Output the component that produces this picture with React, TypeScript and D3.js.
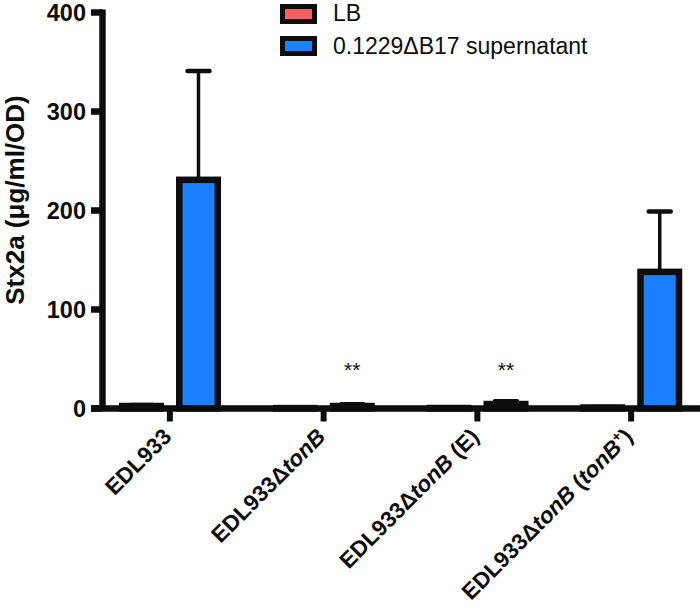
import React from 'react';
import * as d3 from 'd3';

const categories = ['EDL933', 'EDL933ΔtonB', 'EDL933ΔtonB (E)', 'EDL933ΔtonB (tonB+)'];
const labelParts = [
  [{ t: 'EDL933' }],
  [{ t: 'EDL933Δ' }, { t: 'tonB', i: true }],
  [{ t: 'EDL933Δ' }, { t: 'tonB', i: true }, { t: ' (E)' }],
  [{ t: 'EDL933Δ' }, { t: 'tonB', i: true }, { t: ' (' }, { t: 'tonB', i: true }, { t: '+', sup: true }, { t: ')' }],
];
const seriesNames = ['LB', '0.1229ΔB17 supernatant'];
const seriesColors = ['#f45f5f', '#1a80ff'];
const lbMeans = [2.5, 0.4, 0.5, 1.0];
const lbErrors = [1.0, 0.3, 0.3, 0.4];
const supMeans = [231, 2.5, 4.5, 138];
const supErrors = [110, 1.8, 2.8, 61];
const yTicks = [0, 100, 200, 300, 400];
const significance = ['', '**', '**', ''];

const W = 700;
const H = 616;
const INK = '#0d0d0d';
const FONT = "'Liberation Sans', Arial, sans-serif";
const LABEL_FS = 22.5;

export default function App() {
  const y = d3.scaleLinear().domain([0, 400]).range([408.5, 12.5]);
  const x0 = d3.scaleBand<string>().domain(categories).range([93, 708]);
  const x1 = d3.scaleBand<string>().domain(seriesNames).range([20, 134]);
  const barW = 38.5;
  const axisX = 102.5;
  const means = [lbMeans, supMeans];
  const errs = [lbErrors, supErrors];

  return (
    <svg width={W} height={H} style={{ position: 'absolute', left: 0, top: 0, background: '#fff' }} fontFamily={FONT}>
      {/* bars */}
      {categories.map((c, ci) =>
        seriesNames.map((s, si) => {
          const cx = (x0(c) as number) + (x1(s) as number) + x1.bandwidth() / 2;
          const v = means[si][ci];
          const e = errs[si][ci];
          return (
            <g key={c + s}>
              <line x1={cx} x2={cx} y1={y(v)} y2={y(v + e)} stroke={INK} strokeWidth={3.5} />
              <line x1={cx - 11} x2={cx + 11} y1={y(v + e)} y2={y(v + e)} stroke={INK} strokeWidth={4.5} strokeLinecap="round" />
              <rect x={cx - barW / 2} y={y(v)} width={barW} height={Math.max(0.01, y(0) - y(v))} fill={seriesColors[si]} stroke={INK} strokeWidth={6.5} />
            </g>
          );
        })
      )}
      {/* significance */}
      {categories.map((c, ci) => {
        const cx = (x0(c) as number) + (x1(seriesNames[1]) as number) + x1.bandwidth() / 2;
        return significance[ci] ? (
          <text key={'sig' + c} x={cx} y={377} textAnchor="middle" fontSize={21} fill={INK}>{significance[ci]}</text>
        ) : null;
      })}
      {/* y axis */}
      <line x1={axisX} x2={axisX} y1={y(400) - 3} y2={y(0)} stroke={INK} strokeWidth={6.5} />
      {yTicks.map((t) => (
        <g key={'yt' + t}>
          <line x1={91} x2={axisX} y1={y(t)} y2={y(t)} stroke={INK} strokeWidth={6.5} />
          <text x={86} y={y(t)} dy="0.36em" textAnchor="end" fontSize={23.5} fontWeight="bold" fill={INK}>{t}</text>
        </g>
      ))}
      {/* x axis */}
      <line x1={91} x2={710} y1={y(0)} y2={y(0)} stroke={INK} strokeWidth={6.5} />
      {categories.map((c, ci) => {
        const cx = (x0(c) as number) + x0.bandwidth() / 2;
        return (
          <g key={'xt' + c}>
            <line x1={cx} x2={cx} y1={y(0)} y2={y(0) + 13} stroke={INK} strokeWidth={6} />
            <text transform={`translate(${cx + 3},${438}) rotate(-45)`} textAnchor="end" fontSize={LABEL_FS} fontWeight="bold" fill={INK}>
              {labelParts[ci].map((p: any, pi: number) => {
                const prevSup = pi > 0 && (labelParts[ci][pi - 1] as any).sup;
                return (
                  <tspan key={pi} fontStyle={p.i ? 'italic' : 'normal'} fontSize={p.sup ? 14 : LABEL_FS} dy={p.sup ? -9 : prevSup ? 9 : 0}>{p.t}</tspan>
                );
              })}
            </text>
          </g>
        );
      })}
      {/* y label */}
      <text transform="translate(24,200) rotate(-90)" textAnchor="middle" fontSize={26} fontWeight="bold" fill={INK}>Stx2a (μg/ml/OD)</text>
      {/* legend */}
      {seriesNames.map((s, si) => (
        <g key={'lg' + s}>
          <rect x={282.5} y={6.5 + si * 32} width={32} height={15} fill={seriesColors[si]} stroke={INK} strokeWidth={5} />
          <text x={333} y={21 + si * 32.5} fontSize={23} fill={INK}>{s}</text>
        </g>
      ))}
    </svg>
  );
}
